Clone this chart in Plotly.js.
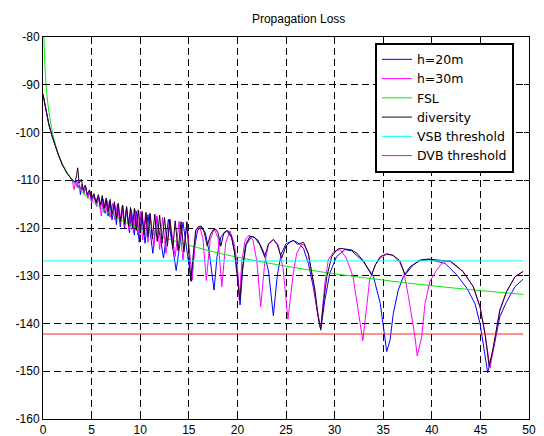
<!DOCTYPE html>
<html><head><meta charset="utf-8">
<script src="https://cdn.plot.ly/plotly-3.0.1.min.js"></script>
<style>html,body{margin:0;padding:0;background:#fff}#chart{width:544px;height:436px}</style>
</head><body><div id="chart"></div>
<script>
// ---- data ----
const fslX = [0.1,0.15,0.2,0.3,0.4,0.5,0.75,1,1.5,2,2.5,3,4,5,6,7,8,10,12,15,18,20,25,30,35,40,45,49.4];
const fslY = [-80,-83.5,-86,-89.5,-92,-94,-97.5,-100.3,-104,-106.6,-108.5,-110,-112.4,-114.3,-115.8,-117.1,-118.3,-120.2,-121.7,-123.6,-125.2,-126.1,-128.0,-129.6,-130.9,-132.1,-133.1,-133.9];

const h20X = [0,0.2,0.4,0.6,0.9,1.2,1.6,2.0,2.5,3.0,3.3,3.45,3.6,3.75,3.85,4.0,4.2,4.4,4.6,4.8,5.0,5.25,5.45,5.7,5.9,6.1,6.3,6.5,6.7,6.9,7.1,7.35,7.55,7.75,7.95,8.2,8.4,8.6,8.9,9.1,9.4,9.6,9.9,10.15,10.5,10.8,11.3,11.7,12.4,12.9,13.7,14.4,15.25,15.6,15.9,16.3,16.7,17.1,17.6,17.9,18.3,18.9,19.4,19.8,20.05,20.27,20.55,20.9,21.5,22.1,22.7,23.2,23.7,24.1,24.5,25.0,25.75,26.3,26.8,27.3,27.8,28.2,28.57,29.0,29.5,30.2,31.07,31.76,32.95,34.0,34.7,35.36,35.7,36.04,36.55,37.07,37.76,38.8,39.8,41.36,42.56,43.6,44.44,44.96,45.3,45.75,46.33,47.0,47.7,48.56,49.4];
const h20Y = [-92,-94.3,-96.5,-98.3,-100.5,-102.5,-104.8,-106.8,-108.6,-109.9,-110.4,-110.0,-111.5,-111.0,-113.0,-111.0,-112.5,-111.5,-113.5,-112.3,-114.5,-113.2,-115.0,-113.5,-116.0,-113.8,-116.8,-114.2,-117.5,-114.5,-118.3,-115.0,-119.3,-115.3,-119.8,-115.6,-120.2,-115.8,-121.0,-116.2,-121.5,-116.5,-123.0,-117.0,-123.2,-117.2,-125.3,-117.5,-126.3,-118.2,-128.9,-118.8,-131.2,-124.0,-120.5,-119.8,-121.0,-125.0,-133.0,-126.0,-121.8,-120.6,-122.0,-126.0,-130.0,-136.1,-128.5,-123.5,-121.7,-122.5,-125.0,-129.0,-138.4,-130.0,-125.5,-123.3,-122.6,-123.2,-124.3,-127.4,-132.3,-137.2,-141.4,-135.1,-129.5,-126.0,-124.5,-124.8,-127.0,-130.2,-135.8,-145.9,-143.5,-137.9,-133.0,-130.2,-128.1,-126.8,-126.6,-127.4,-129.8,-132.6,-135.8,-140.0,-144.9,-150.3,-145.5,-138.6,-135.4,-132.3,-130.7];

const h30X = [0,0.2,0.4,0.6,0.9,1.2,1.6,2.0,2.5,3.0,3.2,3.35,3.5,3.65,3.8,4.0,4.2,4.4,4.6,4.8,5.0,5.25,5.5,5.75,6.0,6.2,6.45,6.65,6.9,7.15,7.4,7.65,7.9,8.15,8.35,8.6,8.85,9.05,9.3,9.5,9.75,10.0,10.25,10.55,10.8,11.05,11.4,11.7,12.0,12.3,12.65,13.05,13.6,14.0,14.4,14.8,15.35,15.75,16.1,16.45,16.8,17.2,17.6,18.0,18.4,18.8,19.25,19.7,20.0,20.2,20.45,20.8,21.2,21.6,22.0,22.4,22.8,23.2,23.7,24.2,24.7,25.2,25.4,25.75,26.1,26.6,26.9,27.3,27.8,28.2,28.57,29.0,29.35,29.9,30.56,31.2,31.9,32.4,32.9,33.3,33.6,34.2,34.7,35.36,36.0,36.7,37.1,37.6,37.9,38.27,38.5,38.96,39.3,39.8,40.5,41.2,41.9,43.2,44.27,44.96,45.47,46.0,46.33,47.0,47.7,48.56,49.4];
const h30Y = [-92,-94.3,-96.5,-98.3,-100.5,-102.5,-104.8,-106.8,-108.6,-109.9,-112.0,-110.2,-111.5,-109.8,-112.0,-110.8,-113.0,-111.5,-113.8,-112.3,-114.8,-113.0,-115.5,-113.5,-117.5,-114.0,-117.0,-114.3,-117.8,-114.8,-118.3,-115.0,-119.0,-115.4,-119.8,-115.7,-120.5,-116.0,-121.0,-116.2,-121.5,-116.5,-122.5,-117.0,-123.0,-117.2,-124.0,-117.5,-124.5,-117.8,-125.3,-118.2,-126.0,-118.6,-126.7,-118.7,-130.9,-120.5,-119.8,-122.0,-131.0,-122.5,-120.2,-122.0,-132.3,-123.0,-120.6,-123.5,-128.0,-135.3,-127.0,-122.5,-121.5,-122.5,-127.0,-136.5,-127.5,-123.5,-122.4,-123.5,-128.5,-139.1,-135.1,-129.5,-125.3,-123.4,-123.6,-125.5,-131.5,-137.0,-141.0,-131.6,-126.7,-125.0,-124.5,-126.3,-130.2,-136.5,-143.6,-136.5,-130.9,-127.7,-126.3,-125.5,-125.7,-127.2,-129.0,-134.4,-137.9,-142.8,-146.8,-142.8,-135.8,-131.2,-128.8,-127.0,-126.8,-129.1,-132.3,-136.5,-142.1,-149.3,-145.2,-137.2,-133.3,-130.2,-129.1];

const divX = [0,0.2,0.4,0.6,0.9,1.2,1.6,2.0,2.5,3.0,3.3,3.45,3.57,3.72,3.95,4.15,4.35,4.55,4.78,5.0,5.24,5.45,5.7,5.9,6.1,6.3,6.5,6.7,6.9,7.1,7.35,7.55,7.75,7.95,8.2,8.4,8.6,8.8,9.0,9.2,9.4,9.6,9.8,10.0,10.2,10.4,10.6,10.8,11.0,11.25,11.5,11.75,12.0,12.25,12.5,12.8,13.05,13.35,13.6,13.9,14.2,14.5,14.8,15.2,15.5,15.7,16.0,16.3,16.6,16.9,17.2,17.5,17.8,18.0,18.3,18.6,19.0,19.4,19.7,19.95,20.25,20.55,20.85,21.3,21.8,22.3,22.8,23.2,23.7,24.1,24.55,25.0,25.4,25.75,26.2,26.8,27.3,27.6,27.98,28.3,28.57,28.85,29.2,29.7,30.2,30.56,31.2,31.76,32.3,33.0,33.5,33.8,34.2,34.7,35.36,36.0,36.7,37.24,38.1,38.8,39.64,40.8,41.9,43.2,44.27,44.96,45.47,45.9,46.33,47.0,47.7,48.56,49.4];
const divY = [-92,-94.3,-96.5,-98.3,-100.5,-102.5,-104.8,-106.8,-108.6,-109.9,-110.4,-109.0,-107.4,-110.6,-109.8,-112.0,-111.0,-113.0,-112.0,-113.8,-112.8,-114.6,-113.0,-115.2,-113.2,-115.8,-113.7,-116.5,-114.0,-117.2,-114.5,-118.0,-114.8,-118.7,-115.2,-119.2,-115.5,-119.6,-115.7,-120.0,-115.9,-120.5,-116.2,-121.0,-116.5,-121.5,-116.7,-121.8,-116.9,-122.3,-117.1,-122.8,-117.3,-123.2,-117.8,-123.8,-118.2,-124.3,-118.5,-124.8,-118.7,-125.0,-118.7,-131.0,-125.0,-120.5,-119.7,-119.6,-121.0,-123.8,-121.5,-120.4,-120.3,-121.0,-123.8,-121.0,-120.5,-121.8,-125.0,-130.0,-135.1,-128.0,-123.5,-121.7,-122.0,-123.5,-126.0,-123.3,-122.4,-123.5,-126.3,-123.8,-123.0,-122.6,-123.4,-123.0,-125.3,-128.8,-133.0,-138.6,-141.2,-135.8,-130.2,-126.0,-124.6,-124.25,-124.4,-124.6,-125.3,-127.0,-128.8,-129.8,-127.7,-126.0,-125.4,-125.7,-126.8,-129.8,-127.7,-126.7,-126.5,-126.7,-127.0,-129.1,-132.3,-136.5,-142.1,-149.0,-144.9,-137.2,-133.3,-130.2,-129.1];

const vsbX = [0, 49.4], vsbY = [-126.9, -126.9];
const dvbX = [0, 49.4], dvbY = [-142.2, -142.2];

const names = ['h=20m','h=30m','FSL','diversity','VSB threshold','DVB threshold'];
const yTicks = [-160,-150,-140,-130,-120,-110,-100,-90,-80];
const yTickText = ['-160','-150','-140','-130','-120','-110','-100','-90','-80'];
const xTicks = [0,5,10,15,20,25,30,35,40,45,50];
const xTickText = ['0','5','10','15','20','25','30','35','40','45','50'];

// ---- chart ----
const FONT = 'Liberation Sans, Arial, sans-serif';
const ln = (c) => ({color: c, width: 1});
const traces = [
  {x: h20X, y: h20Y, name: names[0], mode: 'lines', line: ln('#0000ff')},
  {x: h30X, y: h30Y, name: names[1], mode: 'lines', line: ln('#ff00ff')},
  {x: fslX, y: fslY, name: names[2], mode: 'lines', line: Object.assign(ln('#00ee00'), {shape: 'spline'})},
  {x: divX, y: divY, name: names[3], mode: 'lines', line: ln('#200020')},
  {x: vsbX, y: vsbY, name: names[4], mode: 'lines', line: ln('#00ffff')},
  {x: dvbX, y: dvbY, name: names[5], mode: 'lines', line: ln('#ff2020')}
];
const axisCommon = {
  showline: true, linecolor: '#000', linewidth: 1, mirror: 'allticks',
  ticks: 'inside', ticklen: 5, tickcolor: '#000', tickwidth: 1,
  showgrid: true, gridcolor: '#000', gridwidth: 1, griddash: '7px,4px',
  zeroline: false, tickfont: {family: FONT, size: 12, color: '#000'}
};
const layout = {
  width: 544, height: 436,
  margin: {l: 43, r: 15, t: 37, b: 17},
  paper_bgcolor: '#fff', plot_bgcolor: '#fff',
  title: {text: 'Propagation Loss', font: {family: FONT, size: 12, color: '#000'},
          x: 0.526, xref: 'paper', xanchor: 'center', y: 0.958, yref: 'container', yanchor: 'middle'},
  xaxis: Object.assign({}, axisCommon, {range: [0, 50], tickvals: xTicks, ticktext: xTickText}),
  yaxis: Object.assign({}, axisCommon, {range: [-160, -80], tickvals: yTicks, ticktext: yTickText}),
  showlegend: true,
  legend: {x: 0.683, y: 0.985, xanchor: 'left', yanchor: 'top', bgcolor: '#fff',
           bordercolor: '#000', borderwidth: 2, font: {family: 'DejaVu Sans, sans-serif', size: 12.5, color: '#000'},
           itemwidth: 30, tracegroupgap: 0, entrywidth: 106, entrywidthmode: 'pixels'},
};
Plotly.newPlot('chart', traces, layout, {staticPlot: true, displayModeBar: false});
</script></body></html>
